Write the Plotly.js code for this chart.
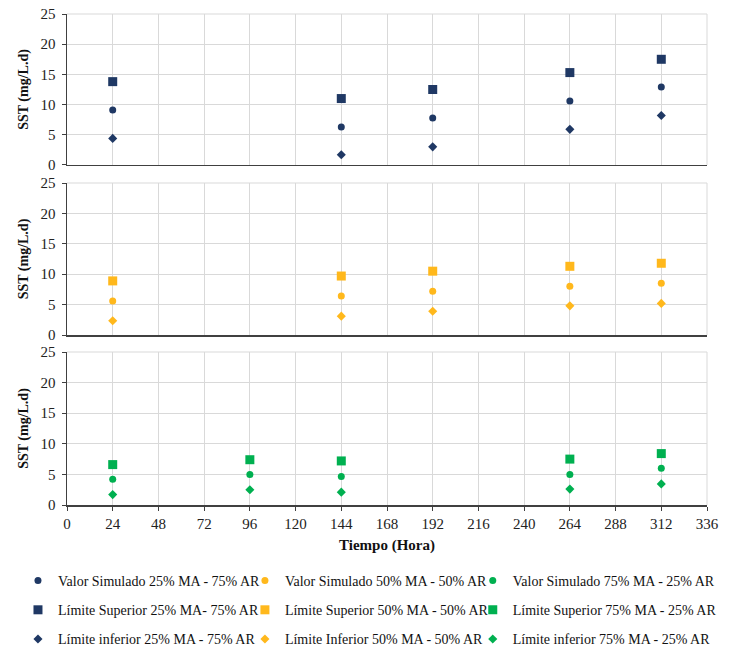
<!DOCTYPE html>
<html>
<head>
<meta charset="utf-8">
<script src="https://cdn.plot.ly/plotly-3.0.1.min.js"></script>
<style>html,body{margin:0;padding:0;background:#fff;}#chart{width:729px;height:649px;}</style>
</head>
<body>
<div id="chart"></div>
<script>
// Time points (hours)
const t1 = [24, 144, 192, 264, 312];
const t2 = [24, 144, 192, 264, 312];
const t3 = [24, 96, 144, 264, 312];

// 25% MA - 75% AR
const vs25 = [9.1, 6.3, 7.8, 10.6, 12.9];
const ls25 = [13.8, 11.0, 12.5, 15.3, 17.5];
const li25 = [4.4, 1.7, 3.0, 5.9, 8.2];

// 50% MA - 50% AR
const vs50 = [5.6, 6.4, 7.2, 8.0, 8.5];
const ls50 = [8.9, 9.7, 10.5, 11.3, 11.8];
const li50 = [2.35, 3.1, 3.9, 4.8, 5.2];

// 75% MA - 25% AR
const vs75 = [4.2, 5.0, 4.65, 5.0, 6.0];
const ls75 = [6.6, 7.4, 7.2, 7.5, 8.4];
const li75 = [1.7, 2.5, 2.1, 2.6, 3.45];

const xTicks = [0, 24, 48, 72, 96, 120, 144, 168, 192, 216, 240, 264, 288, 312, 336];
const yTicks = [0, 5, 10, 15, 20, 25];

const navy = '#1F3864', orange = '#FFB81C', green = '#00B050';
const F = 'Liberation Serif, Times New Roman, serif';

function tr(name, x, y, color, symbol, size, xa, ya, legend) {
  return {type: 'scatter', mode: 'markers', name: name, x: x, y: y,
    xaxis: xa, yaxis: ya, legend: legend, legendgroup: name,
    marker: {color: color, symbol: symbol, size: size}};
}

// one legend per column (25/75, 50/50, 75/25)
const data = [
  tr('Valor Simulado 25% MA - 75% AR', t1, vs25, navy, 'circle', 7, 'x', 'y', 'legend'),
  tr('Límite Superior 25% MA- 75% AR', t1, ls25, navy, 'square', 9, 'x', 'y', 'legend'),
  tr('Límite inferior 25% MA - 75% AR', t1, li25, navy, 'diamond', 7, 'x', 'y', 'legend'),
  tr('Valor Simulado 50% MA - 50% AR', t2, vs50, orange, 'circle', 7, 'x2', 'y2', 'legend2'),
  tr('Límite Superior 50% MA - 50% AR', t2, ls50, orange, 'square', 9, 'x2', 'y2', 'legend2'),
  tr('Límite Inferior 50% MA - 50% AR', t2, li50, orange, 'diamond', 7, 'x2', 'y2', 'legend2'),
  tr('Valor Simulado 75% MA - 25% AR', t3, vs75, green, 'circle', 7, 'x3', 'y3', 'legend3'),
  tr('Límite Superior 75% MA - 25% AR', t3, ls75, green, 'square', 9, 'x3', 'y3', 'legend3'),
  tr('Límite inferior 75% MA - 25% AR', t3, li75, green, 'diamond', 7, 'x3', 'y3', 'legend3')
];

function xax(anchor, showLabels) {
  return {
    anchor: anchor, range: [0, 336], tickvals: xTicks, ticktext: xTicks.map(String),
    showticklabels: showLabels, ticks: showLabels ? 'outside' : '', ticklen: 4, tickcolor: '#404040',
    showgrid: true, gridcolor: '#D9D9D9', gridwidth: 1,
    showline: true, linecolor: '#404040', linewidth: 1.5, zeroline: false,
    tickfont: {family: F, size: 15, color: '#222'},
    mirror: false
  };
}
function yax(anchor, domain) {
  return {
    anchor: anchor, domain: domain, range: [0, 25], tickvals: yTicks, ticktext: yTicks.map(String),
    ticks: 'outside', ticklen: 4, tickcolor: '#404040', ticklabelstandoff: 3,
    showgrid: true, gridcolor: '#D9D9D9', gridwidth: 1,
    showline: true, linecolor: '#404040', linewidth: 1.5, zeroline: false,
    tickfont: {family: F, size: 15, color: '#222'},
    title: {text: '<b>SST (mg/L.d)</b>', font: {family: F, size: 14, color: '#111'}, standoff: 8}
  };
}

const legCommon = {orientation: 'v', xanchor: 'left', yanchor: 'top', y: -0.1222,
  itemwidth: 30, tracegroupgap: 8,
  font: {family: F, size: 14, color: '#111'}, bgcolor: 'rgba(0,0,0,0)'};

const layout = {
  width: 729, height: 649,
  margin: {l: 67, r: 22, t: 14, b: 144, autoexpand: false},
  paper_bgcolor: '#fff', plot_bgcolor: '#fff',
  showlegend: true,
  xaxis: Object.assign(xax('y', false), {domain: [0, 1]}),
  xaxis2: Object.assign(xax('y2', false), {domain: [0, 1]}),
  xaxis3: Object.assign(xax('y3', true), {domain: [0, 1],
    title: {text: '<b>Tiempo (Hora)</b>', font: {family: F, size: 15, color: '#111'}, standoff: 9}}),
  yaxis: yax('x', [0.6925, 1]),
  yaxis2: yax('x2', [0.3462, 0.6558]),
  yaxis3: yax('x3', [0, 0.3116]),
  legend: Object.assign({}, legCommon, {x: -0.0766}),
  legend2: Object.assign({}, legCommon, {x: 0.278}),
  legend3: Object.assign({}, legCommon, {x: 0.634}),
  shapes: [
    {type: 'line', xref: 'x domain', yref: 'y domain', x0: 1, x1: 1, y0: 0, y1: 1, line: {color: '#D9D9D9', width: 1}},
    {type: 'line', xref: 'x domain', yref: 'y domain', x0: 0, x1: 1, y0: 1, y1: 1, line: {color: '#D9D9D9', width: 1}},
    {type: 'line', xref: 'x2 domain', yref: 'y2 domain', x0: 1, x1: 1, y0: 0, y1: 1, line: {color: '#D9D9D9', width: 1}},
    {type: 'line', xref: 'x2 domain', yref: 'y2 domain', x0: 0, x1: 1, y0: 1, y1: 1, line: {color: '#D9D9D9', width: 1}},
    {type: 'line', xref: 'x3 domain', yref: 'y3 domain', x0: 1, x1: 1, y0: 0, y1: 1, line: {color: '#D9D9D9', width: 1}},
    {type: 'line', xref: 'x3 domain', yref: 'y3 domain', x0: 0, x1: 1, y0: 1, y1: 1, line: {color: '#D9D9D9', width: 1}}
  ]
};

Plotly.newPlot('chart', data, layout, {displayModeBar: false, staticPlot: true});
</script>
</body>
</html>
